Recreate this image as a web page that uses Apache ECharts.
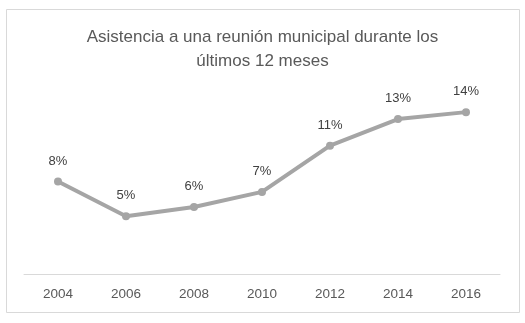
<!DOCTYPE html>
<html>
<head>
<meta charset="utf-8">
<script src="https://cdn.jsdelivr.net/npm/echarts@6/dist/echarts.min.js"></script>
<style>
  html, body { margin: 0; padding: 0; background: #fff; }
  #chart { width: 525px; height: 323px; }
</style>
</head>
<body>
<div id="chart"></div>
<script>
const years = ['2004', '2006', '2008', '2010', '2012', '2014', '2016'];
const asistencia = [8.0, 5.0, 5.8, 7.1, 11.1, 13.4, 14.0];
const titulo = 'Asistencia a una reunión municipal durante los\núltimos 12 meses';

const myChart = echarts.init(document.getElementById('chart'));
const option = {
  backgroundColor: '#fff',
  animation: false,
  graphic: [{
    type: 'rect',
    shape: { x: 6.5, y: 9.5, width: 513, height: 303 },
    style: { fill: 'none', stroke: '#d9d9d9', lineWidth: 1 },
    silent: true
  }],
  title: {
    text: titulo,
    left: 'center',
    top: 20,
    textStyle: {
      fontFamily: 'Liberation Sans',
      fontSize: 17,
      fontWeight: 'normal',
      color: '#595959',
      lineHeight: 24
    }
  },
  grid: { left: 24, right: 25, top: 89, bottom: 49 },
  xAxis: {
    type: 'category',
    data: years,
    boundaryGap: true,
    axisLine: { lineStyle: { color: '#d9d9d9', width: 1 } },
    axisTick: { show: false },
    axisLabel: {
      color: '#595959',
      fontFamily: 'Liberation Sans',
      fontSize: 13.5,
      margin: 13
    }
  },
  yAxis: {
    type: 'value',
    min: 0,
    max: 16,
    show: false,
    splitLine: { show: false }
  },
  series: [{
    type: 'line',
    data: asistencia,
    symbol: 'circle',
    symbolSize: 8,
    lineStyle: { color: '#a5a5a5', width: 4 },
    itemStyle: { color: '#a5a5a5' },
    label: {
      show: true,
      position: 'top',
      distance: 10,
      color: '#404040',
      fontFamily: 'Liberation Sans',
      fontSize: 13,
      formatter: function (p) { return Math.round(p.value) + '%'; }
    }
  }]
};
myChart.setOption(option);
</script>
</body>
</html>
